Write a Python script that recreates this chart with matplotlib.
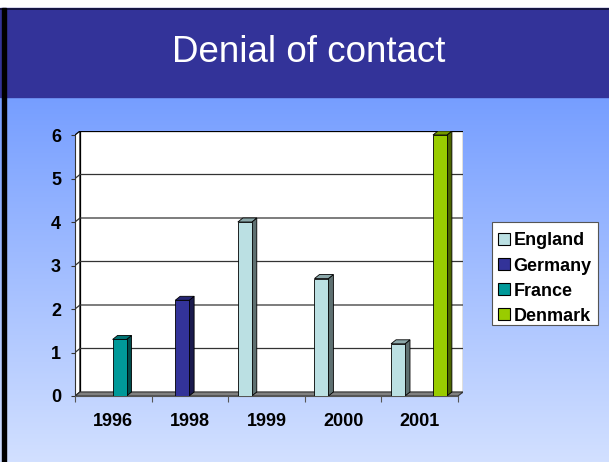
import numpy as np
import matplotlib
matplotlib.use('Agg')
import matplotlib.pyplot as plt
from matplotlib.patches import Polygon, Rectangle
from matplotlib.lines import Line2D

plt.rcParams['font.family'] = ['Liberation Sans', 'DejaVu Sans']

# data
years = ['1996', '1998', '1999', '2000', '2001']
series = ['England', 'Germany', 'France', 'Denmark']
values = {
    'England': [0, 0, 4.0, 2.7, 1.2],
    'Germany': [0, 2.2, 0, 0, 0],
    'France':  [1.3, 0, 0, 0, 0],
    'Denmark': [0, 0, 0, 0, 6.0],
}
face_colors = {'England': '#BBE0E3', 'Germany': '#333399', 'France': '#009999', 'Denmark': '#99CC00'}
side_colors = {'England': '#5E7071', 'Germany': '#1A1A4D', 'France': '#004D4D', 'Denmark': '#4D6600'}
top_colors = {'England': '#8CA8AA', 'Germany': '#262673', 'France': '#007373', 'Denmark': '#739900'}
yticks = [0, 1, 2, 3, 4, 5, 6]

fig = plt.figure(figsize=(6.09, 4.62), dpi=100)

# slide background
bg = fig.add_axes([0, 0, 1, 1])
bg.set_xlim(0, 609)
bg.set_ylim(462, 0)
bg.axis('off')
grad = np.linspace(0, 1, 256).reshape(-1, 1)
top_c = np.array([118, 158, 255]) / 255
bot_c = np.array([210, 224, 255]) / 255
img = top_c + (bot_c - top_c) * grad[..., None]
bg.imshow(img.reshape(256, 1, 3), extent=[0, 609, 462, 97], aspect='auto', zorder=0)
bg.add_patch(Rectangle((0, 0), 609, 8, color='white', zorder=1))
bg.add_patch(Rectangle((0, 8), 609, 89, color='#333399', zorder=1))
bg.plot([0, 609], [8.5, 8.5], color='#111133', lw=1.2, zorder=2)
bg.add_patch(Rectangle((2, 8), 4, 454, color='black', zorder=2))
bg.text(309, 53, 'Denial of contact', color='white', fontsize=26.5,
        ha='center', va='center', zorder=3)
# legend box (text sits low in it, like the original)
bg.add_patch(Rectangle((492, 222), 106, 103, facecolor='white', edgecolor='#555555',
                       lw=0.8, zorder=2))

# chart
dx, dy = 0.065, 0.092
ax = fig.add_axes([75 / 609, (462 - 396) / 462, 388 / 609, 265 / 462])
ax.set_xlim(0, 5 + dx)
ax.set_ylim(0, 6 + dy)
ax.patch.set_alpha(0)
for s in ['top', 'right']:
    ax.spines[s].set_visible(False)
ax.spines['left'].set_bounds(0, 6)
ax.spines['bottom'].set_bounds(0, 5)
ax.spines['left'].set_color('#333333')
ax.spines['bottom'].set_color('#555555')

# walls and floor
ax.add_patch(Rectangle((dx, dy), 5, 6, facecolor='white', edgecolor='black', lw=0.9, zorder=1))
ax.add_patch(Polygon([(0, 0), (dx, dy), (dx, 6 + dy), (0, 6)], closed=True,
                     facecolor='white', edgecolor='black', lw=0.9, zorder=1))
for k in yticks[1:-1]:
    ax.plot([0, dx, 5 + dx], [k, k + dy, k + dy], color='#333333', lw=0.9, zorder=2)
ax.add_patch(Polygon([(0, 0), (5, 0), (5 + dx, dy), (dx, dy)], closed=True,
                     facecolor='#808080', edgecolor='#333333', lw=0.8, zorder=3))

# bars
slot = [0.217, 0.399, 0.582, 0.764]
w = 0.182
for i, name in enumerate(series):
    for c, v in enumerate(values[name]):
        if v <= 0:
            continue
        x0 = c + slot[i] - w / 2
        x1 = x0 + w
        ax.add_patch(Polygon([(x1, 0), (x1 + dx, dy), (x1 + dx, v + dy), (x1, v)], closed=True,
                             facecolor=side_colors[name], edgecolor='black', lw=0.6, zorder=4))
        ax.add_patch(Polygon([(x0, v), (x1, v), (x1 + dx, v + dy), (x0 + dx, v + dy)], closed=True,
                             facecolor=top_colors[name], edgecolor='black', lw=0.6, zorder=4))
        ax.add_patch(Rectangle((x0, 0), w, v, facecolor=face_colors[name],
                               edgecolor='black', lw=0.6, zorder=5))

ax.set_yticks(yticks)
ax.set_yticklabels([str(t) for t in yticks], fontsize=13, fontweight='bold')
ax.set_xticks(range(6))
ax.set_xticklabels([])
ax.set_xticks([c + 0.5 for c in range(5)], minor=True)
ax.set_xticklabels(years, minor=True, fontsize=13, fontweight='bold')
ax.tick_params(axis='y', length=3, width=0.8, color='#333333', pad=7)
ax.tick_params(axis='x', which='major', length=4, width=0.8, color='#555555')
ax.tick_params(axis='x', which='minor', length=0, pad=12)

handles = [Line2D([], [], marker='s', linestyle='none', markersize=8,
                  markerfacecolor=face_colors[n], markeredgecolor='black', markeredgewidth=0.8)
           for n in series]
leg = fig.legend(handles, series, loc='upper left', bbox_to_anchor=(492 / 609, 1 - 227 / 462),
                 prop={'weight': 'bold', 'size': 13}, frameon=False,
                 borderpad=0.3, handlelength=0.7, handletextpad=0.2, labelspacing=0.45,
                 borderaxespad=0)

fig.savefig('out.png', dpi=100)
